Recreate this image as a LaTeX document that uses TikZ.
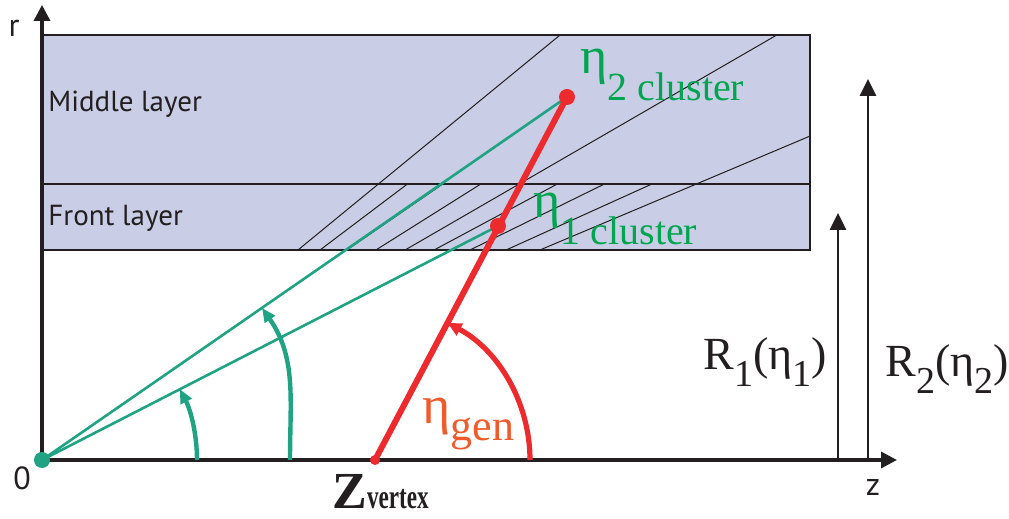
\documentclass[tikz,border=0pt]{standalone}
\usepackage{fontspec}
\setmainfont{Liberation Serif}
\newfontfamily\layerfont{PT Sans}
\usetikzlibrary{arrows.meta,calc}
\definecolor{layerfill}{HTML}{C9CEE6}
\definecolor{raygreen}{HTML}{1FA383}
\definecolor{textgreen}{HTML}{00A54F}
\definecolor{trackred}{HTML}{ED2A2E}
\definecolor{genorange}{HTML}{F15A2B}
\definecolor{ink}{HTML}{231F20}
\newcommand{\sublow}[3]{\raisebox{-#1}{\fontsize{#2}{#2}\selectfont #3}}

\begin{document}
\begin{tikzpicture}[x=0.5pt,y=0.5pt,
  axis/.style={ink,line width=1.7pt,-{Triangle[length=8pt,width=8pt]}},
  layer/.style={draw=ink,line width=1.3pt},
  cell/.style={ink,line width=0.5pt},
  sanslabel/.style={ink,font=\layerfont\fontsize{14.5}{16}\selectfont,inner sep=0pt},
  axislabel/.style={ink,font=\layerfont\fontsize{16}{18}\selectfont,inner sep=0pt},
  serif/.style={inner sep=0pt,anchor=base west},
  greenray/.style={raygreen,line width=1.3pt},
  greenarc/.style={raygreen,line width=2.2pt,-{Triangle[length=7pt,width=6pt]}},
  track/.style={trackred,line width=3pt},
  redarc/.style={trackred,line width=2.6pt,-{Triangle[length=7pt,width=6.5pt]}},
  rarrow/.style={ink,line width=1.4pt,-{Triangle[length=8.5pt,width=8pt]}}]

    \useasboundingbox (-42,-59) rectangle (967,460);

    \coordinate (O) at (0,0);
    \coordinate (V) at (333,0);
    \coordinate (C1) at (456,234);
    \coordinate (C2) at (525,363);
    \coordinate (rtip) at (0,455);
    \coordinate (ztip) at (855,0);

    % calorimeter layers
    \fill[layerfill] (0,210) rectangle (768,425);
    \begin{scope}
        \clip (0,210) rectangle (768,425);
        \foreach \k in {1.219,1.729,2.371}
            \draw[cell] (O) -- (425*\k,425);
    \end{scope}
    \begin{scope}
        \clip (0,210) rectangle (768,276);
        \foreach \k in {1.324,1.452,1.590,1.867,2.038,2.210}
            \draw[cell] (O) -- (276*\k,276);
    \end{scope}
    \draw[layer] (0,210) rectangle (768,276);
    \draw[layer] (0,276) rectangle (768,425);

    \node[sanslabel,anchor=base west] (middle) at (6,348) {Middle layer};
    \node[sanslabel,anchor=base west] (front) at (6,234) {Front layer};

    % axes
    \draw[axis] (O) -- (rtip);
    \draw[axis] (O) -- (ztip);
    \node[axislabel] (rlab) at (-28,432) {r};
    \node[axislabel] (zero) at (-20,-18) {0};
    \node[axislabel] (zlab) at (831,-28) {z};

    % radii
    \coordinate (R1base) at (796,0);
    \coordinate (R1tip) at (796,247);
    \coordinate (R2base) at (826,0);
    \coordinate (R2tip) at (826,381);
    \draw[rarrow] (R1base) -- (R1tip);
    \draw[rarrow] (R2base) -- (R2tip);
    \node[serif,ink] (R1lab) at (661,90) {\fontsize{23}{24}\selectfont R\sublow{8.5pt}{19}{1}(η\sublow{8.5pt}{19}{1})};
    \node[serif,ink] (R2lab) at (843,83) {\fontsize{23}{24}\selectfont R\sublow{8.5pt}{19}{2}(η\sublow{8.5pt}{19}{2})};

    % cluster directions seen from 0
    \draw[greenray] (O) -- (C2);
    \draw[greenray] (O) -- (C1);
    \draw[greenarc] (155,0) arc[start angle=0,end angle=27.2,radius=155];
    \draw[greenarc] (248,0) to[out=90,in=-55] (220,152);
    \fill[raygreen] (O) circle (8);

    % true track from the vertex
    \draw[track] (V) -- (C2);
    \draw[redarc] (488,0) arc[start angle=0,end angle=62.1,radius=155];
    \fill[trackred] (V) circle (5);
    \fill[trackred] (C1) circle (8);
    \fill[trackred] (C2) circle (8);

    \node[serif,textgreen] (eta2) at (538,386) {\fontsize{26}{26}\selectfont η\sublow{13.5pt}{20}{2 cluster}};
    \node[serif,textgreen] (eta1) at (491,242) {\fontsize{26}{26}\selectfont η\sublow{13.5pt}{20}{1 cluster}};
    \node[serif,genorange] (etagen) at (380,36) {\fontsize{27}{27}\selectfont η\sublow{8.5pt}{22}{gen}};
    \node[serif,ink] (zvertex) at (290,-49) {\fontsize{26}{26}\selectfont\bfseries Z\scalebox{0.68}[1]{\fontsize{17}{17}\selectfont\bfseries vertex}};
\end{tikzpicture}
\end{document}
